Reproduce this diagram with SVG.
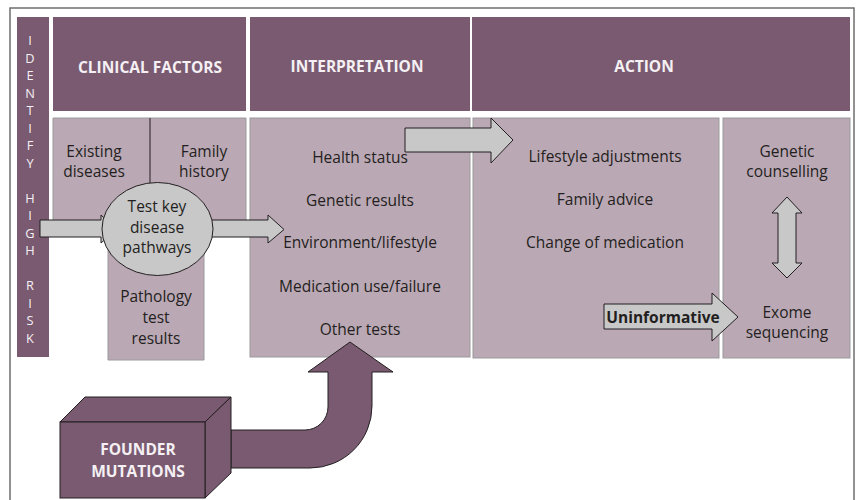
<svg xmlns="http://www.w3.org/2000/svg" width="856" height="500" viewBox="0 0 856 500">
<style>
.hdr{fill:#7A5A71}
.box{fill:#BBA8B5;stroke:#9A9A9A;stroke-width:1}
.ht{font-family:"Open Sans","Liberation Sans",sans-serif;font-weight:bold;font-size:15.5px;fill:#F4F0F3;text-anchor:middle}
.t{font-family:"Open Sans","Liberation Sans",sans-serif;font-size:15.5px;fill:#231F20;text-anchor:middle}
.v{font-family:"Open Sans","Liberation Sans",sans-serif;font-size:12.8px;fill:#F4F0F3;text-anchor:middle}
.ga{fill:#C8C8C9;stroke:#231F20;stroke-width:1}
.pa{fill:#7A5A71;stroke:#231F20;stroke-width:1}
</style>
<rect x="10" y="8" width="844" height="500" fill="#FFFFFF" stroke="#6E6E6E" stroke-width="1.5"/>
<g id="identify">
<rect class="hdr" x="17" y="17" width="32" height="340"/>
<text class="v"><tspan x="30" y="45">I</tspan><tspan x="30" y="62.5">D</tspan><tspan x="30" y="80">E</tspan><tspan x="30" y="97.5">N</tspan><tspan x="30" y="115">T</tspan><tspan x="30" y="132.5">I</tspan><tspan x="30" y="150">F</tspan><tspan x="30" y="167.5">Y</tspan><tspan x="30" y="202.5">H</tspan><tspan x="30" y="220">I</tspan><tspan x="30" y="237.5">G</tspan><tspan x="30" y="255">H</tspan><tspan x="30" y="290">R</tspan><tspan x="30" y="307.5">I</tspan><tspan x="30" y="325">S</tspan><tspan x="30" y="342.5">K</tspan></text>
</g>
<g id="clinical-header"><rect class="hdr" x="53" y="17" width="193" height="94"/><text class="ht" x="150" y="73">CLINICAL FACTORS</text></g>
<g id="interpretation-header"><rect class="hdr" x="250" y="17" width="220" height="94"/><text class="ht" x="357" y="72">INTERPRETATION</text></g>
<g id="action-header"><rect class="hdr" x="472" y="17" width="378" height="94"/><text class="ht" x="644" y="72">ACTION</text></g>
<g id="clinical">
<path class="box" d="M53,118 H246 V230 H204 V360 H108 V230 H53 Z"/>
<line x1="150" y1="118" x2="150" y2="186" stroke="#231F20" stroke-width="1"/>
<text class="t"><tspan x="94" y="157">Existing</tspan><tspan x="94" y="177">diseases</tspan></text>
<text class="t"><tspan x="204" y="157">Family</tspan><tspan x="204" y="177">history</tspan></text>
<text class="t"><tspan x="156" y="302">Pathology</tspan><tspan x="156" y="323">test</tspan><tspan x="156" y="344">results</tspan></text>
</g>
<g id="interpretation">
<rect class="box" x="250" y="118" width="220" height="239"/>
<text class="t"><tspan x="360" y="163">Health status</tspan><tspan x="360" y="206">Genetic results</tspan><tspan x="360" y="248">Environment/lifestyle</tspan><tspan x="360" y="292">Medication use/failure</tspan><tspan x="360" y="335">Other tests</tspan></text>
</g>
<g id="action">
<rect class="box" x="473" y="118" width="246" height="240"/>
<text class="t"><tspan x="605" y="162">Lifestyle adjustments</tspan><tspan x="605" y="205">Family advice</tspan><tspan x="605" y="248">Change of medication</tspan></text>
</g>
<g id="options">
<rect class="box" x="723" y="118" width="127" height="240"/>
<text class="t"><tspan x="787" y="157">Genetic</tspan><tspan x="787" y="177">counselling</tspan></text>
<text class="t"><tspan x="787" y="318">Exome</tspan><tspan x="787" y="338">sequencing</tspan></text>
</g>
<g id="connectors">
<path class="ga" d="M40,220 H101 V215 L116,229.5 L101,243 V237 H40 Z"/>
<path class="ga" d="M208,220 H268 V215 L284,229.5 L268,243 V237 H208 Z"/>
<path class="ga" d="M405,128 H491 V118 L513,140 L491,163 V152 H405 Z"/>
<path class="ga" d="M604,304 H712 V293 L738,317 L712,341 V329 H604 Z"/>
<path class="ga" d="M778,213 H772 L787,197 L802,213 H796 V263 H802 L787,278 L772,263 H778 Z"/>
<path class="pa" d="M231,430 H305 A23,23 0 0 0 328,407 V372 H308 L350,342 L393,372 H372 V406 A62,62 0 0 1 310,468 H231 Z"/>
</g>
<g id="test-key">
<ellipse cx="157.5" cy="229" rx="55.5" ry="46.5" fill="#C8C8C9" stroke="#231F20" stroke-width="1"/>
<text class="t"><tspan x="157" y="212">Test key</tspan><tspan x="157" y="233">disease</tspan><tspan x="157" y="253">pathways</tspan></text>
</g>
<g id="uninformative-label"><text class="t" x="663" y="323" font-weight="bold">Uninformative</text></g>
<g id="founder">
<path class="pa" d="M60,422 L85,397 H231 L205,422 Z"/>
<path class="pa" d="M205,422 L231,397 V473 L205,498 Z"/>
<rect class="pa" x="60" y="422" width="145" height="76"/>
<text class="ht"><tspan x="138" y="455">FOUNDER</tspan><tspan x="138" y="477">MUTATIONS</tspan></text>
</g>
</svg>
